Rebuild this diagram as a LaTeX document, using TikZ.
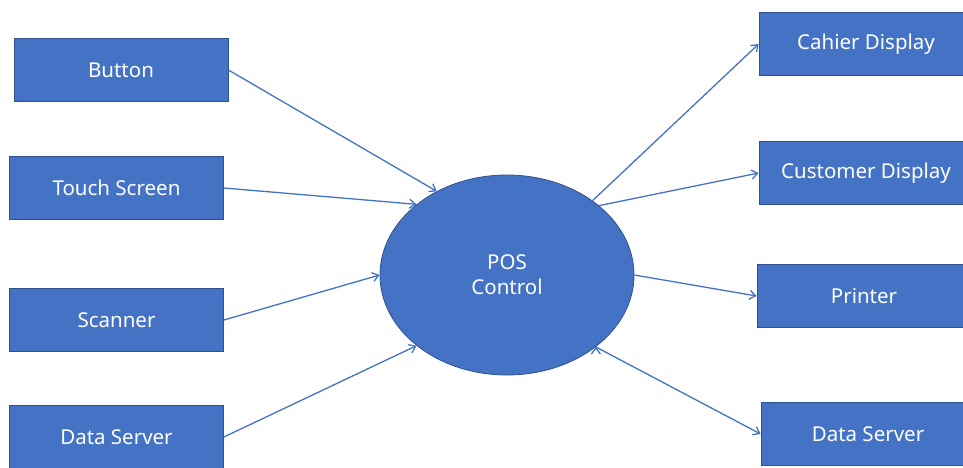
\documentclass[tikz,border=0pt]{standalone}
\usepackage{fontspec}
\setmainfont{Noto Sans}
\usetikzlibrary{arrows.meta,shapes.geometric}
\definecolor{posfill}{HTML}{4472C4}
\definecolor{posline}{HTML}{2F528F}
\begin{document}
\begin{tikzpicture}
    [x=1pt, y=-1pt,
    >={Straight Barb[length=6pt,width=9pt]},
    every box/.style={
      rectangle,
      minimum width=214pt,
      minimum height=63pt,
      draw=posline,
      fill=posfill,
      text=white,
      font=\fontsize{20.5}{24}\selectfont,
      line width=0.8pt},
    every link/.style={draw=posfill, line width=1.3pt}
    ]
    \useasboundingbox (0,0) rectangle (963,467);
    \clip (0,0) rectangle (963,467);
    \node (pos) at (507,275) [ellipse, minimum width=254pt, minimum height=200pt,
      draw=posline, fill=posfill, text=white, align=center,
      font=\fontsize{20.5}{25}\selectfont, line width=0.8pt] {POS\\Control};
    \node (button) at (121,70) [every box] {Button};
    \node (touch) at (116.5,188) [every box] {Touch Screen};
    \node (scanner) at (116.5,320) [every box] {Scanner};
    \node (serverin) at (116.5,437) [every box] {Data Server};
    \node (cashier) at (866,44) [every box] {Cahier Display};
    \node (customer) at (866,173) [every box] {Customer Display};
    \node (printer) at (864,296) [every box] {Printer};
    \node (serverout) at (868,434) [every box] {Data Server};
    \path[->, every link]
      (button.east) edge (pos.130)
      (touch.east) edge (pos.142)
      (scanner.east) edge (pos.180)
      (serverin.east) edge (pos.218)
      (pos.41) edge (cashier.west)
      (pos.37) edge (customer.west)
      (pos.0) edge (printer.west)
      (pos.321) edge (serverout.west);
  \end{tikzpicture}
\end{document}
